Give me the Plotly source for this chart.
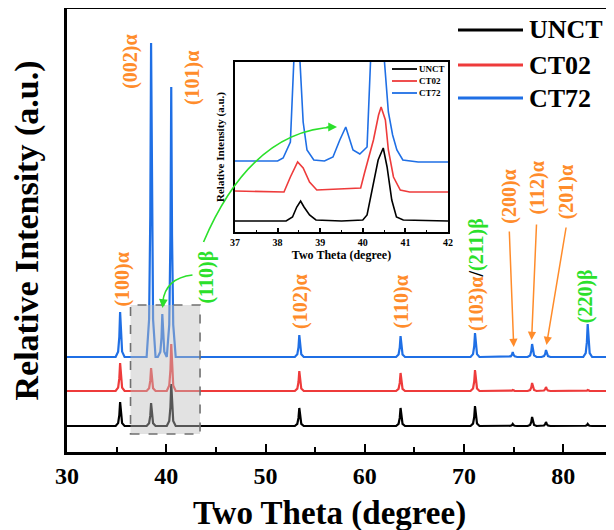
import numpy as np
import plotly.graph_objects as go

# ---------------- data ----------------
series_names = ["UNCT", "CT02", "CT72"]
series_colors = ["#000000", "#EE3B3B", "#1F6FE5"]

# main pattern: peak positions (2theta) and heights above each baseline
peak_pos = [35.35, 38.47, 39.6, 40.5, 53.4, 63.6, 71.1, 74.9, 76.85, 78.25, 82.45]
unct_h = [24, 23, 0, 42, 18, 18, 20, 2, 9, 4, 2]
ct02_h = [28, 23, 0, 47, 20, 18, 21, 1, 8, 4, 1]
ct72_h = [45, 314, 43, 270, 22, 21, 24, 5, 13, 7, 33]
baselines = [26, 61, 95]
x_ticks = [30, 40, 50, 60, 70, 80]

# inset (37-42 deg) traced vertices
inset_unct_x = [37.0, 38.2, 38.35, 38.45, 38.54, 38.62, 38.75, 38.9, 39.5, 40.0, 40.1,
                40.24, 40.36, 40.48, 40.57, 40.68, 40.79, 40.95, 42.0]
inset_unct_y = [11, 11, 15, 25, 31, 25, 17, 12, 11, 12, 17, 45, 72, 84, 65, 32, 15, 12, 11]
inset_ct02_x = [37.0, 38.15, 38.3, 38.47, 38.6, 38.75, 38.92, 39.5, 39.95, 40.04, 40.25,
                40.37, 40.43, 40.53, 40.6, 40.72, 40.88, 41.1, 42.0]
inset_ct02_y = [41, 40, 55, 70, 64, 50, 42, 43, 44, 59, 92, 117, 125, 112, 82, 55, 42, 40, 40]
inset_ct72_x = [37.0, 38.0, 38.13, 38.3, 38.38, 38.45, 38.52, 38.6, 38.69, 38.85, 39.1,
                39.3, 39.46, 39.6, 39.77, 39.93, 40.1, 40.24, 40.4, 40.5, 40.6, 40.7,
                40.8, 40.94, 41.3, 42.0]
inset_ct72_y = [71, 71, 74, 90, 170, 400, 175, 110, 82, 72, 71, 75, 92, 105, 82, 78, 85,
                170, 400, 175, 120, 97, 82, 72, 70, 70]
inset_ticks = [37, 38, 39, 40, 41, 42]

# peak labels (text, x, y) for rotated annotations
orange = "#FF8C2B"
green = "#2BE02B"
labels = [
    ("(100)α", 35.5, 172, orange),
    ("(002)α", 36.33, 390, orange),
    ("(101)α", 42.6, 374, orange),
    ("(110)β", 43.96, 175, green),
    ("(102)α", 53.46, 150, orange),
    ("(110)α", 63.6, 150, orange),
    ("(200)α", 74.5, 255, orange),
    ("(112)α", 77.3, 264, orange),
    ("(201)α", 80.3, 260, orange),
    ("(220)β", 82.2, 156, green),
]
# arrows: (head x, head y, tail x, tail y)
orange_arrows = [(75.0, 105, 74.55, 222), (76.8, 112, 77.3, 229), (78.3, 107, 80.3, 226)]

# ---------------- build ----------------
prof_off = np.array([-0.45, -0.2, -0.08, 0.0, 0.08, 0.2, 0.45])
prof_frac = np.array([0.0, 0.12, 0.45, 1.0, 0.45, 0.12, 0.0])
xs = np.unique(np.concatenate([[30.0, 85.0]] + [c + prof_off for c in peak_pos]))

def pattern(heights, base):
    y = np.full_like(xs, float(base))
    for c, h in zip(peak_pos, heights):
        if h:
            y += h * np.interp(xs, c + prof_off, prof_frac, left=0, right=0)
    return y

fig = go.Figure()
for name, col, hs, b in zip(series_names, series_colors, [unct_h, ct02_h, ct72_h], baselines):
    fig.add_trace(go.Scatter(x=xs, y=pattern(hs, b), mode="lines", name=name,
                             line=dict(color=col, width=2.2), showlegend=False,
                             xaxis="x", yaxis="y"))

for name, col, ix, iy in zip(series_names, series_colors,
                             [inset_unct_x, inset_ct02_x, inset_ct72_x],
                             [inset_unct_y, inset_ct02_y, inset_ct72_y]):
    fig.add_trace(go.Scatter(x=ix, y=iy, mode="lines", name=name,
                             line=dict(color=col, width=1.6), showlegend=False,
                             xaxis="x2", yaxis="y2"))

serif = "Liberation Serif, Times New Roman, serif"
OFF = 8  # page body margin
W, H = 614 - OFF, 530 - OFF
L, R, T, B = 67 - OFF, 1, 9 - OFF, 530 - 452
pw, ph = W - L - R, H - T - B


def px(xp):
    return (xp - OFF - L) / pw


def py(yp):
    return (530 - B - yp) / ph


fig.update_layout(
    width=W, height=H, margin=dict(l=L, r=R, t=T, b=B, autoexpand=False),
    paper_bgcolor="white", plot_bgcolor="white",
    font=dict(family=serif, color="black"),
    xaxis=dict(range=[30, 85], domain=[0, 1], tickvals=x_ticks, ticks="inside",
               ticklen=8, tickwidth=2, tickcolor="black", automargin=False,
               minor=dict(ticks="inside", dtick=5, tick0=30, ticklen=5, tickwidth=2,
                          tickcolor="black"),
               showline=True, linewidth=3, linecolor="black", mirror=True,
               showgrid=False, zeroline=False,
               tickfont=dict(family=serif, size=24, weight="bold")),
    yaxis=dict(range=[0, ph], domain=[0, 1], showticklabels=False, ticks="",
               showline=True, linewidth=3, linecolor="black", mirror=True,
               showgrid=False, zeroline=False, automargin=False,
               title=dict(text="Relative Intensity (a.u.)", standoff=22,
                          font=dict(family=serif, size=34, weight="bold"))),
    xaxis2=dict(range=[37, 42], domain=[px(235), px(448)], anchor="y2",
                tickvals=inset_ticks, ticks="inside", ticklen=4, tickwidth=1.5,
                tickcolor="black", automargin=False,
                minor=dict(ticks="inside", dtick=0.5, tick0=37, ticklen=2.5,
                           tickwidth=1.2, tickcolor="black"),
                showline=True, linewidth=1.8, linecolor="black", mirror=True,
                showgrid=False, zeroline=False,
                tickfont=dict(family=serif, size=10, weight="bold"),
                title=dict(text="Two Theta (degree)", standoff=2,
                           font=dict(family=serif, size=12, weight="bold"))),
    yaxis2=dict(range=[0, 170], domain=[py(232), py(62)], anchor="x2",
                showticklabels=False, ticks="", automargin=False,
                showline=True, linewidth=1.8, linecolor="black", mirror=True,
                showgrid=False, zeroline=False,
                title=dict(text="Relative Intensity (a.u.)", standoff=6,
                           font=dict(family=serif, size=11, weight="bold"))),
)

shapes = []
# highlighted region
shapes.append(dict(type="rect", xref="x", yref="y", x0=36.4, x1=43.4, y0=18, y1=147,
                   fillcolor="rgba(190,190,190,0.45)",
                   line=dict(color="#707070", width=1.6, dash="dash"), layer="above"))
# green curved connectors
shapes.append(dict(type="path", xref="x", yref="y",
                   path="M 43.755,210 Q 48.57,322 57.0,325",
                   line=dict(color=green, width=1.6), layer="above"))
shapes.append(dict(type="path", xref="x", yref="y",
                   path="M 42.64,177 Q 39.94,174 39.64,150",
                   line=dict(color=green, width=1.6), layer="above"))

annotations = []
# main x-axis title (placed as in the reference, slightly left of centre)
annotations.append(dict(x=px(329), y=py(513), xref="paper", yref="paper",
                        text="<b>Two Theta (degree)</b>", showarrow=False,
                        xanchor="center", yanchor="middle",
                        font=dict(family=serif, size=33, color="black")))
for txt, x, y, c in labels:
    annotations.append(dict(x=x, y=y, xref="x", yref="y", text="<b>" + txt + "</b>",
                            textangle=-90, showarrow=False, xanchor="center",
                            yanchor="middle", font=dict(family=serif, size=20, color=c)))
annotations.append(dict(x=71.2, y=177, xref="x", yref="y",
                        text=f"<b><span style='color:{orange}'>(103)α</span>/"
                             f"<span style='color:{green}'>(211)β</span></b>",
                        textangle=-90, showarrow=False, xanchor="center", yanchor="middle",
                        font=dict(family=serif, size=20, color="black")))
for hx, hy, tx, ty in orange_arrows:
    annotations.append(dict(x=hx, y=hy, ax=tx, ay=ty, xref="x", yref="y", axref="x",
                            ayref="y", text="", showarrow=True, arrowhead=2, arrowsize=1.1,
                            arrowwidth=1.5, arrowcolor=orange))
# green arrow heads
annotations.append(dict(x=57.2, y=325, xref="x", yref="y", ax=-12, ay=0, text="",
                        showarrow=True, arrowhead=2, arrowsize=1.1, arrowwidth=1.6,
                        arrowcolor=green))
annotations.append(dict(x=39.62, y=144, xref="x", yref="y", ax=1, ay=-10, text="",
                        showarrow=True, arrowhead=2, arrowsize=1.1, arrowwidth=1.6,
                        arrowcolor=green))

# main legend
for i, (name, col) in enumerate(zip(series_names, series_colors)):
    yy = py([30, 65, 98][i])
    shapes.append(dict(type="line", xref="paper", yref="paper", x0=px(458), x1=px(523),
                       y0=yy, y1=yy, line=dict(color=col, width=3.2)))
    annotations.append(dict(x=px(527), y=yy, xref="paper", yref="paper",
                            text="<b>" + name + "</b>", showarrow=False, xanchor="left",
                            yanchor="middle", font=dict(family=serif, size=26, color="black")))
# inset legend
for i, (name, col) in enumerate(zip(series_names, series_colors)):
    yy = py([69, 81, 93][i])
    shapes.append(dict(type="line", xref="paper", yref="paper", x0=px(392), x1=px(417),
                       y0=yy, y1=yy, line=dict(color=col, width=1.8)))
    annotations.append(dict(x=px(417), y=yy, xref="paper", yref="paper",
                            text="<b>" + name + "</b>", showarrow=False, xanchor="left",
                            yanchor="middle", font=dict(family=serif, size=9, color="black")))

fig.update_layout(shapes=shapes, annotations=annotations)
fig.write_html("out.html")
